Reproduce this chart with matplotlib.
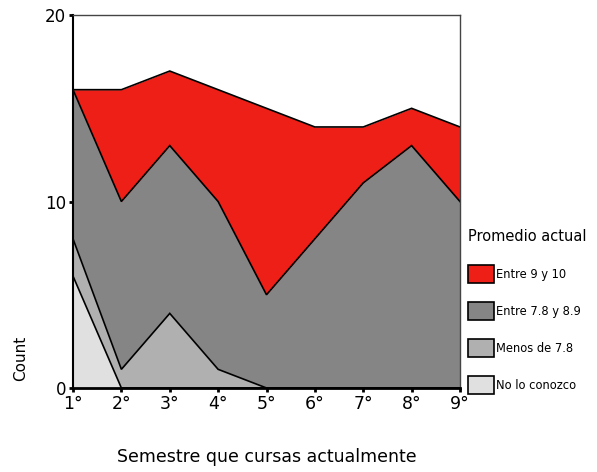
import numpy as np
import matplotlib
matplotlib.use('Agg')
import matplotlib.pyplot as plt
from matplotlib.patches import Patch

semestres = ['1°', '2°', '3°', '4°', '5°', '6°', '7°', '8°', '9°']
no_lo_conozco = [6, 0, 0, 0, 0, 0, 0, 0, 0]
menos_78 = [2, 1, 4, 1, 0, 0, 0, 0, 0]
entre_78_89 = [8, 9, 9, 9, 5, 8, 11, 13, 10]
entre_9_10 = [0, 6, 4, 6, 10, 6, 3, 2, 4]

series = [no_lo_conozco, menos_78, entre_78_89, entre_9_10]
etiquetas = ['No lo conozco', 'Menos de 7.8', 'Entre 7.8 y 8.9', 'Entre 9 y 10']
colores = ['#e0e0e0', '#b0b0b0', '#858585', '#ed1f16']

plt.rcParams['font.family'] = 'DejaVu Sans'
fig = plt.figure(figsize=(5.97, 4.72), dpi=100)
ax = fig.add_axes([0.1223, 0.178, 0.6482, 0.79])

x = np.arange(len(semestres))
base = np.zeros(len(semestres))
for vals, col in zip(series, colores):
    top = base + np.array(vals)
    ax.fill_between(x, base, top, color=col, linewidth=0)
    base = top

# contour lines of each stacked layer
base = np.zeros(len(semestres))
for vals in series:
    base = base + np.array(vals)
    ax.plot(x, base, color='black', lw=1.2, solid_joinstyle='miter')

ax.set_xlim(0, len(semestres) - 1)
ax.set_ylim(0, 20)
ax.set_xticks(x)
ax.set_xticklabels(semestres, fontsize=12.5)
ax.set_yticks([0, 10, 20])
ax.set_yticklabels(['0', '10', '20'], fontsize=12)
ax.tick_params(length=3, width=2, direction='out', pad=2)

for s in ['top', 'right']:
    ax.spines[s].set_color('#444444')
    ax.spines[s].set_linewidth(1)
ax.spines['left'].set_linewidth(1.5)
ax.spines['bottom'].set_linewidth(2)

ax.set_xlabel('Semestre que cursas actualmente', fontsize=12.5, labelpad=25)
ax.set_ylabel('Count', fontsize=11)
ax.yaxis.set_label_coords(-0.115, 0.08)

handles = [Patch(facecolor=c, edgecolor='black', linewidth=1.2, label=l)
           for c, l in zip(colores[::-1], etiquetas[::-1])]
leg = ax.legend(handles=handles, title='Promedio actual', loc='upper left',
                bbox_to_anchor=(1.0, 0.447), frameon=False, fontsize=8.3,
                title_fontsize=10.5, handlelength=2.25, handleheight=2.05,
                handletextpad=0.15, labelspacing=1.62, borderaxespad=0.3)
leg._legend_box.align = 'left'
leg._legend_box.sep = 15

fig.savefig('out.png', dpi=100)
